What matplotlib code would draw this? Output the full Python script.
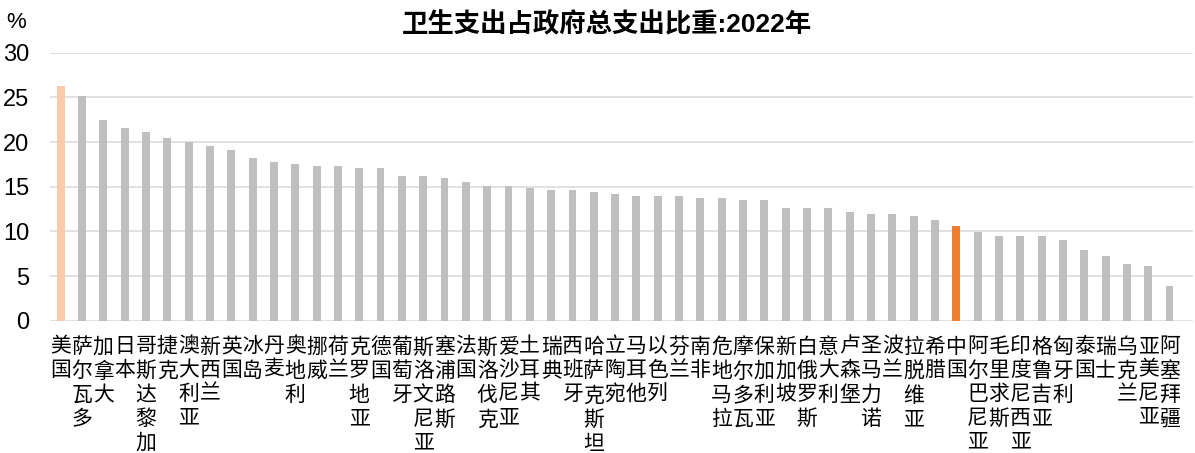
import matplotlib.pyplot as plt

plt.rcParams['font.family'] = ['Liberation Sans', 'Noto Sans CJK SC', 'DejaVu Sans']

# 国家及卫生支出占政府总支出比重(%)
countries = ['美国', '萨尔瓦多', '加拿大', '日本', '哥斯达黎加', '捷克', '澳大利亚', '新西兰',
             '英国', '冰岛', '丹麦', '奥地利', '挪威', '荷兰', '克罗地亚', '德国', '葡萄牙',
             '斯洛文尼亚', '塞浦路斯', '法国', '斯洛伐克', '爱沙尼亚', '土耳其', '瑞典', '西班牙',
             '哈萨克斯坦', '立陶宛', '马耳他', '以色列', '芬兰', '南非', '危地马拉', '摩尔多瓦',
             '保加利亚', '新加坡', '白俄罗斯', '意大利', '卢森堡', '圣马力诺', '波兰', '拉脱维亚',
             '希腊', '中国', '阿尔巴尼亚', '毛里求斯', '印度尼西亚', '格鲁吉亚', '匈牙利', '泰国',
             '瑞士', '乌克兰', '亚美尼亚', '阿塞拜疆']
values = [26.3, 25.2, 22.5, 21.6, 21.1, 20.5, 20.0, 19.6, 19.1, 18.2, 17.8, 17.5, 17.3,
          17.3, 17.1, 17.1, 16.2, 16.2, 16.0, 15.5, 15.1, 15.1, 14.9, 14.6, 14.6, 14.4,
          14.2, 14.0, 14.0, 14.0, 13.7, 13.7, 13.5, 13.5, 12.6, 12.6, 12.6, 12.2, 11.9,
          11.9, 11.7, 11.3, 10.6, 9.9, 9.5, 9.5, 9.5, 9.0, 7.9, 7.2, 6.3, 6.1, 3.9]

colors = []
for c in countries:
    if c == '美国':
        colors.append('#F8CBAD')
    elif c == '中国':
        colors.append('#ED7D31')
    else:
        colors.append('#BFBFBF')

fig = plt.figure(figsize=(11.95, 4.53), dpi=100)
ax = fig.add_axes([50 / 1195, 132.3 / 453, 1143 / 1195, 268 / 453])

x = range(len(countries))
ax.bar(x, values, width=0.37, color=colors, zorder=3)

ax.set_ylim(0, 30)
ax.set_xlim(-0.5, 53.1)
ax.set_yticks(range(0, 31, 5))
ax.yaxis.grid(True, color='#D9D9D9', linewidth=1.1, zorder=0)
for s in ax.spines.values():
    s.set_visible(False)
ax.tick_params(axis='y', length=0, pad=15, labelsize=17)
ax.tick_params(axis='x', length=0, pad=12)

ax.set_xticks(list(x))
ax.set_xticklabels(['\n'.join(c) for c in countries], fontsize=15,
                   linespacing=1.3, va='top')

fig.text(6 / 1195, 1 - 22 / 453, '%', fontsize=16, va='center', ha='left')
fig.text(607 / 1195, 1 - 25 / 453, '卫生支出占政府总支出比重:2022年', fontsize=19,
         fontweight='bold', ha='center', va='center')

fig.savefig('out.png', dpi=100)
